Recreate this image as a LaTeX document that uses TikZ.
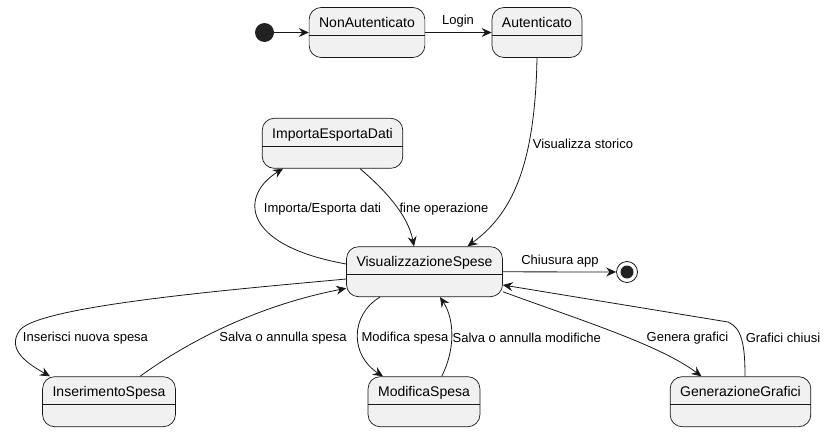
\documentclass[tikz,border=0pt]{standalone}
\usepackage{fontspec}
\setmainfont{Liberation Sans}
\usetikzlibrary{positioning,arrows.meta}
\definecolor{umlfill}{HTML}{F1F1F1}
\definecolor{umlline}{HTML}{181818}
\definecolor{umldot}{HTML}{222222}

\begin{document}
\begin{tikzpicture}[x=1pt,y=-1pt,
  stbox/.style={draw=umlline,fill=umlfill,line width=0.7pt,rounded corners=12pt,
    minimum height=50pt,inner xsep=10pt,inner ysep=0pt,text height=20pt,text depth=30pt,
    font=\fontsize{14}{16}\selectfont,
    path picture={\draw[umlline,line width=0.7pt] ([yshift=-28pt]path picture bounding box.north west) -- ([yshift=-28pt]path picture bounding box.north east);}},
  lbl/.style={font=\fontsize{13}{15}\selectfont,inner sep=0pt},
  tr/.style={-{Stealth[length=10pt,width=9pt,inset=3.5pt]},umlline,line width=0.8pt}]
\useasboundingbox (0,0) rectangle (827,431);
% states
\node[circle,fill=umldot,minimum size=19pt,inner sep=0pt] (init) at (264.5,32.5) {};
\node[stbox] (nonaut) at (367,32.5) {NonAutenticato};
\node[stbox] (aut) at (537,32.5) {Autenticato};
\node[stbox] (impexp) at (332.5,143.3) {ImportaEsportaDati};
\node[stbox] (vis) at (424.5,271.7) {VisualizzazioneSpese};
\node[circle,draw=umlline,line width=0.8pt,minimum size=21pt,inner sep=0pt,
  path picture={\fill[umldot] (path picture bounding box.center) circle (6.5pt);}] (fin) at (627,272) {};
\node[stbox] (ins) at (109,401.7) {InserimentoSpesa};
\node[stbox] (mod) at (424,401.7) {ModificaSpesa};
\node[stbox] (gen) at (740.5,401.7) {GenerazioneGrafici};
% transitions
\draw[tr] (init) -- (nonaut);
\draw[tr] (nonaut) -- (aut);
\node[lbl] (llogin) at (458,21) {Login};
\draw[tr] (aut.south) .. controls (535,170) and (510,215) .. ([xshift=43pt]vis.north);
\node[lbl] (lstorico) at (583,144) {Visualizza storico};
\draw[tr] ([yshift=7.7pt]vis.west) .. controls (240,245) and (240,195) .. ([xshift=-49.5pt]impexp.south);
\node[lbl] (limp) at (322.5,209) {Importa/Esporta dati};
\draw[tr] ([xshift=27.5pt]impexp.south) .. controls (385,190) and (408,215) .. ([xshift=-10.5pt]vis.north);
\node[lbl] (lfine) at (444,209) {fine operazione};
\draw[tr] (vis) -- (fin);
\node[lbl] (lchiusura) at (560,261) {Chiusura app};
\draw[tr] ([yshift=-7.3pt]vis.west) .. controls (250,288) and (40,305) .. (20,330)
  .. controls (5,350) and (30,365) .. ([xshift=-59pt]ins.north);
\node[lbl] (lins) at (85.5,338) {Inserisci nuova spesa};
\draw[tr] ([xshift=31pt]ins.north) .. controls (190,340) and (260,305) .. ([yshift=-16.6pt]vis.west);
\node[lbl] (lsalva) at (283,338) {Salva o annulla spesa};
\draw[tr] ([xshift=-44.5pt]vis.south) .. controls (350,315) and (350,355) .. ([xshift=-41pt]mod.north);
\node[lbl] (lmod) at (405,338) {Modifica spesa};
\draw[tr] ([xshift=17.7pt]mod.north) .. controls (455,350) and (455,320) .. ([xshift=15.5pt]vis.south);
\node[lbl] (lsalvamod) at (526.7,338) {Salva o annulla modifiche};
\draw[tr] ([yshift=-20pt]vis.east) .. controls (580,320) and (660,345) .. ([xshift=-39pt]gen.north);
\node[lbl] (lgenera) at (687.5,338) {Genera grafici};
\draw[tr] ([xshift=4.5pt]gen.north) .. controls (745,345) and (742,328) .. (728,322) -- ([yshift=-13.3pt]vis.east);
\node[lbl] (lchiusi) at (783,338) {Grafici chiusi};
\end{tikzpicture}
\end{document}
